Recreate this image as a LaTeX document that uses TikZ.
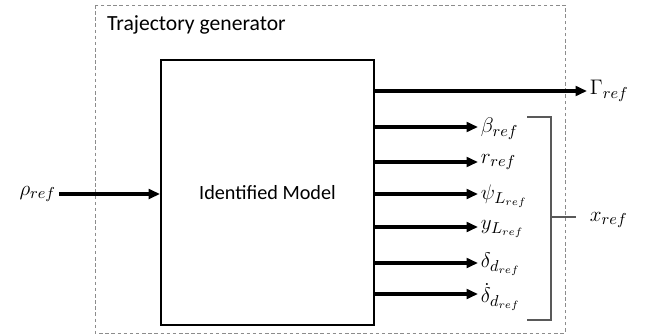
\documentclass[tikz,border=0pt]{standalone}
\usepackage{fontspec}
\setmainfont{Carlito}
\usetikzlibrary{arrows.meta,positioning}

\begin{document}
\begin{tikzpicture}[x=0.02cm,y=-0.02cm]
\tikzset{every node/.style={font=\fontsize{11.5}{13}\selectfont},
    sig/.style={-{Triangle[length=6.5pt,width=5.5pt]}, line width=2pt},
    sym/.style={anchor=west, inner xsep=1.5pt, inner ysep=0pt, font=\fontsize{12.5}{14}\selectfont},
    brace/.style={draw=black!65, line width=0.7pt}}
    \useasboundingbox (0,0) rectangle (649,335);

    % outer frame
    \draw[black!45, dash pattern=on 2pt off 1.5pt, line width=0.5pt] (95,5) rectangle (565,333);
    \node[anchor=west, font=\fontsize{12.3}{14}\selectfont] (title) at (101,25) {Trajectory generator};

    % model block
    \node[draw, line width=1.1pt, minimum width=4.26cm, minimum height=5.3cm] (model) at (267.5,192.5) {Identified Model};

    % input
    \node[sym, anchor=east] (rho) at (59,194) {$\rho_{ref}$};
    \draw[sig] (rho.east) -- (rho.east -| model.west);

    % outputs
    \node[sym] (gamma) at (587,91) {$\Gamma_{ref}$};
    \node[sym] (beta) at (478,129) {$\beta_{ref}$};
    \node[sym] (r) at (478,162) {$r_{ref}$};
    \node[sym] (psi) at (478,196) {$\psi_{L_{ref}}$};
    \node[sym] (y) at (478,229) {$y_{L_{ref}}$};
    \node[sym] (delta) at (478,264) {$\delta_{d_{ref}}$};
    \node[sym] (ddelta) at (478,297) {$\dot\delta_{d_{ref}}$};

    \coordinate (g) at (model.east |- 0,91);
    \draw[sig] (g) -- (gamma.west |- g);
    \foreach \n/\h in {beta/127, r/162, psi/194, y/227, delta/263, ddelta/294}
        \draw[sig] (model.east |- 0,\h) -- (\n.west |- 0,\h);

    % bracket
    \coordinate (bt) at (527,117);
    \coordinate (bb) at (527,320);
    \coordinate (bm) at (551,217);
    \draw[brace] (bt) -- (bt -| bm) -- (bb -| bm) -- (bb);
    \node[sym] (x) at (587,220) {$x_{ref}$};
    \draw[brace] (bm) -- (576,217);
\end{tikzpicture}
\end{document}
